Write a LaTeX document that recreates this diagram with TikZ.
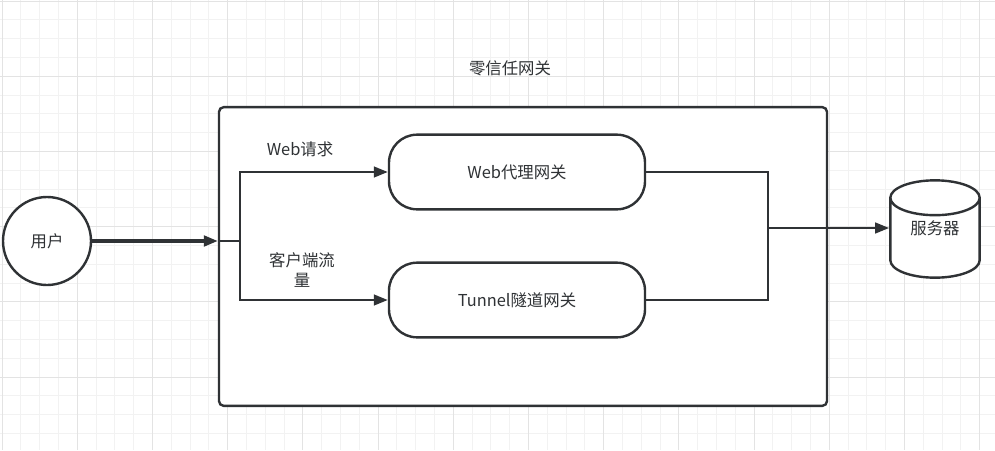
\documentclass[tikz,border=0pt]{standalone}
\usepackage{fontspec}
\setmainfont{Noto Sans CJK SC}
\usepackage{tikz}
\usetikzlibrary{arrows.meta,shapes,positioning,backgrounds}
\definecolor{ink}{HTML}{2F3235}
\definecolor{gridminor}{HTML}{F2F2F2}
\definecolor{gridmajor}{HTML}{E3E3E3}
\tikzset{
gateway/.style={
  rectangle,
  draw=ink,
  line width=1.8pt,
  fill=white,
  rounded corners=21pt,
  minimum width=192pt,
  minimum height=56pt},
user/.style={
  circle,
  draw=ink,
  line width=1.8pt,
  fill=white,
  minimum size=66pt},
server/.style={
  cylinder,
  draw=ink,
  line width=1.8pt,
  fill=white,
  shape border rotate=90,
  aspect=0.6,
  minimum width=67pt,
  minimum height=73pt},
line/.style={draw=ink, line width=1.8pt, -{Triangle[length=10.5pt,width=8pt]}},
edge/.style={draw=ink, line width=1.8pt}
}

\begin{document}
\begin{tikzpicture}[x=0.75pt,y=-0.75pt,font=\fontsize{12.3}{15}\selectfont,text=ink]
    \useasboundingbox (0,0) rectangle (995,450);
    % grid
    \foreach \i in {0,...,53} {
      \draw[gridminor, line width=0.6pt] ({2+18.8*\i},0) -- ({2+18.8*\i},450);
    }
    \foreach \i in {0,...,24} {
      \draw[gridminor, line width=0.6pt] (0,{1+18.8*\i}) -- (995,{1+18.8*\i});
    }
    \foreach \i in {0,...,13} {
      \draw[gridmajor, line width=0.6pt] ({2+75.2*\i},0) -- ({2+75.2*\i},450);
    }
    \foreach \i in {0,...,6} {
      \draw[gridmajor, line width=0.6pt] (0,{1+75.2*\i}) -- (995,{1+75.2*\i});
    }
    \node [draw=ink, line width=1.8pt, fill=white, rounded corners=3.5pt, minimum width=456pt, minimum height=224pt] (gw) at (523,256.5) {};
    \node (title) at (510,68) {零信任网关};
    \node [user] (usr) at (47,241) {用户};
    \node [gateway] (web) at (517,172) {Web代理网关};
    \node [gateway] (tunnel) at (517,300) {Tunnel隧道网关};
    \node [server, anchor=shape center] (srv) at (935,229) {\raisebox{6pt}[0pt][0pt]{服务器}};
    \node (weblbl) at (300,149) {Web请求};
    \node [align=center] (tunlbl) at (302,270) {客户端流\\量};
    \coordinate (split) at (240,241);
    \coordinate (merge) at (768,228);
    \path [line, line width=2.3pt] (usr) -- (usr -| gw.west);
    \path [edge] (usr -| gw.west) -- (split);
    \path [line] (split) |- (web.west);
    \path [line] (split) |- (tunnel.west);
    \path [edge] (web.east) -| (merge);
    \path [edge] (tunnel.east) -| (merge);
    \path [line] (merge) -- (merge -| srv.west);
\end{tikzpicture}
\end{document}
